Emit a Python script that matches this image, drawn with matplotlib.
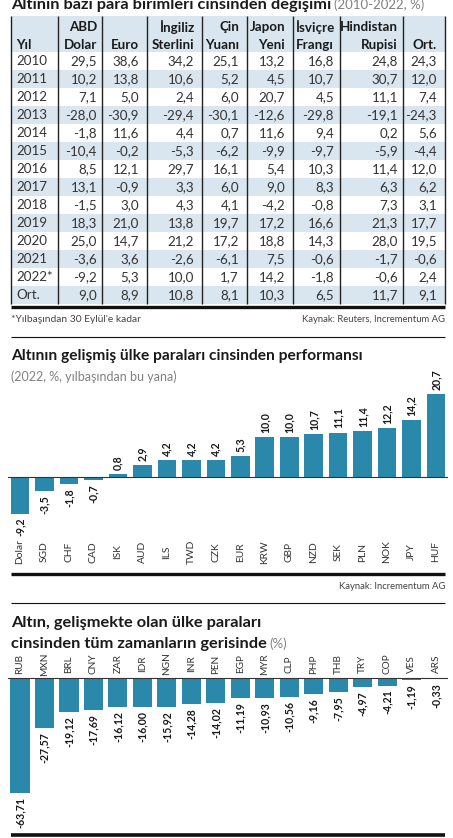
import matplotlib
matplotlib.use("Agg")
import matplotlib.pyplot as plt
from matplotlib.patches import Rectangle

plt.rcParams['font.family'] = ['Lato', 'DejaVu Sans']

# ---------------- data ----------------
years = ["2010", "2011", "2012", "2013", "2014", "2015", "2016", "2017",
         "2018", "2019", "2020", "2021", "2022*", "Ort."]
col_head1 = ["ABD", "", "İngiliz", "Çin", "Japon", "İsviçre", "Hindistan", ""]
col_head2 = ["Dolar", "Euro", "Sterlini", "Yuanı", "Yeni", "Frangı", "Rupisi", "Ort."]
usd = [29.5, 10.2, 7.1, -28.0, -1.8, -10.4, 8.5, 13.1, -1.5, 18.3, 25.0, -3.6, -9.2, 9.0]
eur = [38.6, 13.8, 5.0, -30.9, 11.6, -0.2, 12.1, -0.9, 3.0, 21.0, 14.7, 3.6, 5.3, 8.9]
gbp = [34.2, 10.6, 2.4, -29.4, 4.4, -5.3, 29.7, 3.3, 4.3, 13.8, 21.2, -2.6, 10.0, 10.8]
cny = [25.1, 5.2, 6.0, -30.1, 0.7, -6.2, 16.1, 6.0, 4.1, 19.7, 17.2, -6.1, 1.7, 8.1]
jpy = [13.2, 4.5, 20.7, -12.6, 11.6, -9.9, 5.4, 9.0, -4.2, 17.2, 18.8, 7.5, 14.2, 10.3]
chf = [16.8, 10.7, 4.5, -29.8, 9.4, -9.7, 10.3, 8.3, -0.8, 16.6, 14.3, -0.6, -1.8, 6.5]
inr = [24.8, 30.7, 11.1, -19.1, 0.2, -5.9, 11.4, 6.3, 7.3, 21.3, 28.0, -1.7, -0.6, 11.7]
avg = [24.3, 12.0, 7.4, -24.3, 5.6, -4.4, 12.0, 6.2, 3.1, 17.7, 19.5, -0.6, 2.4, 9.1]

dev_labels = ["Dolar", "SGD", "CHF", "CAD", "ISK", "AUD", "ILS", "TWD", "CZK",
              "EUR", "KRW", "GBP", "NZD", "SEK", "PLN", "NOK", "JPY", "HUF"]
dev_values = [-9.2, -3.5, -1.8, -0.7, 0.8, 2.9, 4.2, 4.2, 4.2,
              5.3, 10.0, 10.0, 10.7, 11.1, 11.4, 12.2, 14.2, 20.7]

em_labels = ["RUB", "MXN", "BRL", "CNY", "ZAR", "IDR", "NGN", "INR", "PEN",
             "EGP", "MYR", "CLP", "PHP", "THB", "TRY", "COP", "VES", "ARS"]
em_values = [-63.71, -27.57, -19.12, -17.69, -16.12, -16.00, -15.92, -14.28, -14.02,
             -11.19, -10.93, -10.56, -9.16, -7.95, -4.97, -4.21, -1.19, -0.33]

# ---------------- style ----------------
BAR = '#2a88aa'
ROWBG = '#dae6ef'
TXT = '#333333'
DARK = '#1a1a1a'
GRAY = '#808080'

W, H = 453, 838
fig = plt.figure(figsize=(W / 100, H / 100), dpi=100)
fig.patch.set_facecolor('white')
ov = fig.add_axes([0, 0, 1, 1], zorder=0)
ov.set_xlim(0, W)
ov.set_ylim(H, 0)
ov.axis('off')
renderer = fig.canvas.get_renderer()


def px_axes(x0, y0, x1, y1):
    return fig.add_axes([x0 / W, 1 - y1 / H, (x1 - x0) / W, (y1 - y0) / H], zorder=2)


def title_pair(x, y, bold_txt, light_txt, size=10.5, light_size=8.6):
    t = ov.text(x, y, bold_txt, fontsize=size, fontweight='bold', color=DARK,
                va='baseline', ha='left')
    if light_txt:
        bb = t.get_window_extent(renderer)
        ov.text(bb.x1 + 3, y, light_txt, fontsize=light_size, color=GRAY,
                va='baseline', ha='left')


def fmt(v, d=1):
    return f"{v:.{d}f}".replace('.', ',')


# ---------------- table ----------------
title_pair(11, 9, "Altının bazı para birimleri cinsinden değişimi", "(2010-2022, %)",
           size=11.8, light_size=9.5)

L, R = 11, 445
top_h, head_b = 16, 52
row_h = 18
tbl_bottom = head_b + row_h * len(years)
ov.add_patch(Rectangle((L, top_h), R - L, head_b - top_h, color=ROWBG, lw=0))
for i in range(len(years)):
    if i % 2 == 1:
        ov.add_patch(Rectangle((L, head_b + i * row_h), R - L, row_h, color=ROWBG, lw=0))

vlines = [11, 58, 102, 147, 202, 247, 293, 340, 403, 445]
for xv in vlines:
    ov.plot([xv, xv], [top_h, tbl_bottom], color='#222222', lw=1.0, solid_capstyle='butt')

right_edges = [97, 139, 194, 239, 285, 334, 398, 437]
cols = [usd, eur, gbp, cny, jpy, chf, inr, avg]
fs_tbl = 9.6
ov.text(16, 45, "Yıl", fontsize=fs_tbl, fontweight='bold', color=DARK, va='center', ha='left')
for j, xr in enumerate(right_edges):
    if col_head1[j]:
        ov.text(xr, 27, col_head1[j], fontsize=fs_tbl, fontweight='bold', color=DARK,
                va='center', ha='right')
    ov.text(xr, 45, col_head2[j], fontsize=fs_tbl, fontweight='bold', color=DARK,
            va='center', ha='right')

for i, yr in enumerate(years):
    yc = head_b + i * row_h + row_h / 2
    ov.text(16, yc, yr, fontsize=fs_tbl, color=TXT, va='center', ha='left')
    for j, xr in enumerate(right_edges):
        ov.text(xr, yc, fmt(cols[j][i]), fontsize=fs_tbl, color=TXT, va='center', ha='right')

ov.plot([L, R], [307, 307], color='#111111', lw=2.4, solid_capstyle='butt')
ov.text(11, 319, "*Yılbaşından 30 Eylül'e kadar", fontsize=7.4, color='#444444',
        va='center', ha='left')
ov.text(445, 319, "Kaynak: Reuters, Incrementum AG", fontsize=6.8, color='#444444',
        va='center', ha='right')
ov.plot([L, R], [337, 337], color='#111111', lw=0.8, solid_capstyle='butt')

# ---------------- chart 2 ----------------
title_pair(11, 360, "Altının gelişmiş ülke paraları cinsinden performansı", None, size=11.2)
ov.text(11, 377, "(2022, %, yılbaşından bu yana)", fontsize=9, color=GRAY,
        va='center', ha='left')

ax2 = px_axes(7.8, 389, 448.3, 517)
x2 = list(range(len(dev_values)))
ax2.bar(x2, dev_values, width=0.76, color=BAR, zorder=2)
ax2.axhline(0, color='#333333', lw=0.8, zorder=3)
ax2.set_xlim(-0.5, len(dev_values) - 0.5)
ax2.set_ylim(-10, 22)
ax2.axis('off')
for i, v in enumerate(dev_values):
    ax2.annotate(fmt(v), (i, v), xytext=(0, 3 if v >= 0 else -3), textcoords='offset points',
                 rotation=90, ha='center', va='bottom' if v >= 0 else 'top',
                 fontsize=7.6, fontweight='bold', color=DARK, annotation_clip=False)
    ax2.text(i, -0.273, dev_labels[i], transform=ax2.get_xaxis_transform(),
             rotation=90, ha='center', va='center', fontsize=7.4, color=TXT)

ov.plot([L, R], [574, 574], color='#111111', lw=2.4, solid_capstyle='butt')
ov.text(445, 586, "Kaynak: Incrementum AG", fontsize=6.8, color='#444444',
        va='center', ha='right')
ov.plot([L, R], [603, 603], color='#111111', lw=0.8, solid_capstyle='butt')

# ---------------- chart 3 ----------------
title_pair(11, 627, "Altın, gelişmekte olan ülke paraları", None, size=11.8)
title_pair(11, 648, "cinsinden tüm zamanların gerisinde", "(%)", size=11.8, light_size=9.5)

ax3 = px_axes(7.8, 674.4, 448.3, 796.8)
x3 = list(range(len(em_values)))
ax3.bar(x3, em_values, width=0.78, color=BAR, zorder=2)
ax3.axhline(0, color='#333333', lw=0.8, zorder=3)
ax3.set_xlim(-0.5, len(em_values) - 0.5)
ax3.set_ylim(-66, 2)
ax3.axis('off')
for i, v in enumerate(em_values):
    ax3.annotate(fmt(v, 2), (i, v), xytext=(0, -3), textcoords='offset points',
                 rotation=90, ha='center', va='top',
                 fontsize=7.6, fontweight='bold', color=DARK, annotation_clip=False)
    ax3.text(i, 1.085, em_labels[i], transform=ax3.get_xaxis_transform(),
             rotation=90, ha='center', va='center', fontsize=7.2, color=TXT)

ov.plot([L, R], [835, 835], color='#111111', lw=2.6, solid_capstyle='butt')

fig.savefig('out.png', dpi=100, facecolor='white')
